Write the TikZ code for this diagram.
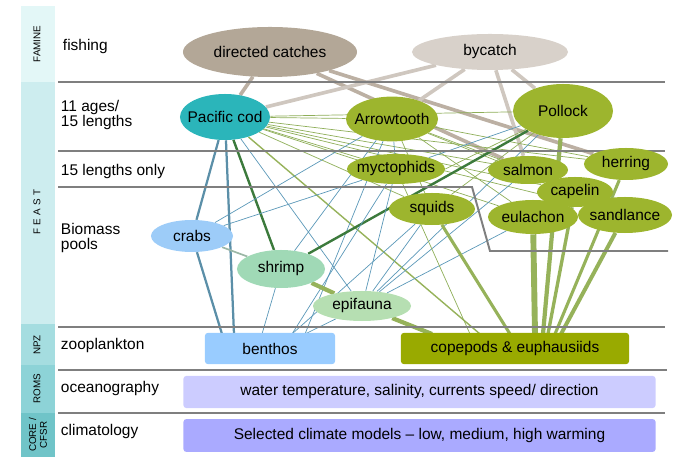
\documentclass[tikz,border=0pt]{standalone}
\usepackage{fontspec}
\setmainfont{Liberation Sans}
\usetikzlibrary{shapes.geometric,backgrounds}

\definecolor{famine}{HTML}{E3F7F7}
\definecolor{feast}{HTML}{CDEDEF}
\definecolor{npz}{HTML}{A5DDE0}
\definecolor{roms}{HTML}{8DD3D7}
\definecolor{core}{HTML}{70C4C8}
\definecolor{captura}{HTML}{B3A797}
\definecolor{incidental}{HTML}{D8D1CA}
\definecolor{bacalao}{HTML}{2BB5BA}
\definecolor{pez}{HTML}{9DB52E}
\definecolor{cangrejo}{HTML}{9DCCF8}
\definecolor{camaron}{HTML}{A0D9B6}
\definecolor{epif}{HTML}{B6DFB2}
\definecolor{bentos}{HTML}{99CCFF}
\definecolor{copepodo}{HTML}{99AA00}
\definecolor{oceano}{HTML}{CCCCFF}
\definecolor{clima}{HTML}{AAAAFF}
\definecolor{separador}{HTML}{7F7F7F}
\definecolor{lcaptura}{HTML}{BCB0A3}
\definecolor{lincid}{HTML}{CFC7BF}
\definecolor{lverde}{HTML}{8EAE58}
\definecolor{lazul}{HTML}{5B98B8}
\definecolor{lazulf}{HTML}{5B8FA8}
\definecolor{lverdeo}{HTML}{3C7A3C}
\definecolor{loliva}{HTML}{96B25A}

\newcommand{\etq}[1]{\makebox[0pt]{#1}}

\begin{document}
\begin{tikzpicture}[x=0.025cm, y=-0.025cm,
        especie/.style={
            ellipse,
            inner sep=0pt,
            font=\fontsize{11}{13}\selectfont
        },
        caja/.style={
            rounded corners=2pt,
            inner sep=0pt,
            font=\fontsize{11}{13}\selectfont
        },
        banda/.style={font=\fontsize{7}{8}\selectfont, rotate=90, align=center},
        nivel/.style={anchor=west, align=left, font=\fontsize{11}{13}\selectfont},
        separa/.style={draw=separador, line width=1.4pt},
        pesca/.style={line width=2.6pt, lcaptura},
        incid/.style={line width=2.6pt, lincid},
        presa/.style={line width=0.5pt, lverde},
        presab/.style={line width=0.5pt, lazul},
        bentica/.style={line width=1.6pt, lazulf},
        oscura/.style={line width=1.7pt, lverdeo},
        plancton/.style={line width=#1, loliva}
    ]
        \useasboundingbox (0,0) rectangle (683,457);

        % bandas de modelos
        \fill[famine] (21,6) rectangle (55,82);
        \fill[feast] (21,82) rectangle (55,324);
        \fill[npz] (21,324) rectangle (55,365);
        \fill[roms] (21,365) rectangle (55,413);
        \fill[core] (21,413) rectangle (55,457);
        \node[banda] (famine) at (37,44) {FAMINE};
        \node[banda] (feast) at (37,212) {F\,\,E\,\,A\,\,S\,\,T};
        \node[banda] (npz) at (37,345) {NPZ};
        \node[banda] (roms) at (37,389) {ROMS};
        \node[banda, font=\fontsize{7}{7.5}\selectfont] (core) at (38,435) {CORE /\\CFSR};

        \node[nivel] (fishing) at (58,47) {fishing};
        \node[nivel, font=\fontsize{11}{11}\selectfont] (edades) at (56,115) {11 ages/\\15 lengths};
        \node[nivel] (tallas) at (56,172) {15 lengths only};
        \node[nivel, font=\fontsize{11}{11}\selectfont] (biomasa) at (56,238) {Biomass\\pools};
        \node[nivel] (zoo) at (56,346) {zooplankton};
        \node[nivel] (oceanografia) at (56,389) {oceanography};
        \node[nivel] (climatologia) at (56,432) {climatology};

        \draw[separa] (58,82) -- (665,82);
        \draw[separa] (58,151) -- (665,151);
        \draw[separa] (58,187) -- (472,187) -- (490,251) -- (668,251);
        \draw[separa] (58,327) -- (665,327);
        \draw[separa] (58,370) -- (667,370);
        \draw[separa] (58,413) -- (665,413);

        % pesquerias
        \node[especie, fill=captura, minimum width=4.35cm, minimum height=1.25cm] (dirigida) at (270,52) {\etq{directed catches}};
        \node[especie, fill=incidental, minimum width=3.9cm, minimum height=0.9cm] (bycatch) at (490,52) {\etq{bycatch}};

        % especies
        \node[especie, fill=bacalao, minimum width=2.25cm, minimum height=1.15cm] (bacalao) at (225,117) {\etq{Pacific cod}};
        \node[especie, fill=pez, minimum width=2.3cm, minimum height=1.12cm] (arrowtooth) at (392,119) {\etq{Arrowtooth}};
        \node[especie, fill=pez, minimum width=2.5cm, minimum height=1.35cm] (pollock) at (563,111) {\etq{Pollock}};
        \node[especie, fill=pez, minimum width=2.45cm, minimum height=0.75cm] (myctophids) at (396,169) {\etq{myctophids}};
        \node[especie, fill=pez, minimum width=2.0cm, minimum height=0.7cm] (salmon) at (528,170) {\etq{salmon}};
        \node[especie, fill=pez, minimum width=2.1cm, minimum height=0.8cm] (herring) at (626,164) {\etq{herring}};
        \node[especie, fill=pez, minimum width=1.9cm, minimum height=0.75cm] (capelin) at (575,192) {\etq{capelin}};
        \node[especie, fill=pez, minimum width=2.25cm, minimum height=0.85cm] (eulachon) at (533,217) {\etq{eulachon}};
        \node[especie, fill=pez, minimum width=2.35cm, minimum height=0.9cm] (sandlance) at (625,215) {\etq{sandlance}};
        \node[especie, fill=pez, minimum width=2.15cm, minimum height=0.8cm] (squids) at (432,209) {\etq{squids}};
        \node[especie, fill=cangrejo, minimum width=2.05cm, minimum height=0.8cm] (crabs) at (192,236) {\etq{crabs}};
        \node[especie, fill=camaron, minimum width=2.2cm, minimum height=0.95cm] (shrimp) at (281,269) {\etq{shrimp}};
        \node[especie, fill=epif, minimum width=2.45cm, minimum height=0.75cm] (epifauna) at (362,306) {\etq{epifauna}};

        % cajas inferiores
        \node[caja, fill=bentos, minimum width=3.25cm, minimum height=0.78cm] (benthos) at (270,348.5) {benthos};
        \node[caja, fill=copepodo, minimum width=5.7cm, minimum height=0.78cm] (copepods) at (515,348.5) {copepods \& euphausiids};
        \node[caja, fill=oceano, minimum width=11.8cm, minimum height=0.8cm] (agua) at (419.5,392) {water temperature, salinity, currents speed/ direction};
        \node[caja, fill=clima, minimum width=11.8cm, minimum height=0.82cm] (modelos) at (419.5,435.5) {Selected climate models -- low, medium, high warming};

        % llegadas a las cajas
        \coordinate (ben-crab) at (222,334);
        \coordinate (ben-cod) at (234,334);
        \coordinate (ben-shr) at (262,334);
        \coordinate (ben-myc) at (292,334);
        \coordinate (ben-epi) at (305,334);
        \coordinate (cop-epi) at (432,334);
        \coordinate (cop-cod) at (480,334);
        \coordinate (cop-myc) at (470,334);
        \coordinate (cop-squ) at (510,334);
        \coordinate (cop-eul) at (535,334);
        \coordinate (cop-pol) at (543,334);
        \coordinate (cop-cap) at (548,334);
        \coordinate (cop-her) at (555,334);
        \coordinate (cop-san) at (561,334);

        \begin{pgfonlayer}{background}
            \draw[pesca] (dirigida) -- (bacalao);
            \draw[pesca] (dirigida) -- (herring);
            \draw[pesca] (dirigida) -- (salmon);
            \draw[incid] (bycatch) -- (bacalao);
            \draw[incid] (bycatch) -- (arrowtooth);
            \draw[incid] (bycatch) -- (pollock);
            \draw[incid] (bycatch) -- (salmon);

            \draw[presa] (bacalao) -- (arrowtooth);
            \draw[presa] (bacalao) -- (pollock);
            \draw[presa] (bacalao) -- (myctophids);
            \draw[presa] (bacalao) -- (salmon);
            \draw[presa] (bacalao) -- (herring);
            \draw[presa] (bacalao) -- (capelin);
            \draw[presa] (bacalao) -- (eulachon);
            \draw[presa] (bacalao) -- (sandlance);
            \draw[presa] (bacalao) -- (squids);
            \draw[plancton=1pt] (bacalao) -- (cop-cod);
            \draw[bentica] (bacalao) -- (crabs);
            \draw[bentica] (bacalao) -- (ben-cod);
            \draw[presab] (bacalao) -- (epifauna);
            \draw[oscura] (bacalao) -- (shrimp);

            \draw[presa] (arrowtooth) -- (salmon);
            \draw[presa] (arrowtooth) -- (herring);
            \draw[presa] (arrowtooth) -- (capelin);
            \draw[presa] (arrowtooth) -- (squids);
            \draw[presa] (arrowtooth) -- (eulachon);
            \draw[presab] (arrowtooth) -- (myctophids);
            \draw[presab] (arrowtooth) -- (crabs);
            \draw[presab] (arrowtooth) -- (shrimp);
            \draw[presab] (arrowtooth) -- (ben-epi);

            \draw[oscura] (pollock) -- (shrimp);
            \draw[presab] (pollock) -- (myctophids);
            \draw[presab] (pollock) -- (epifauna);
            \draw[presa] (pollock) -- (squids);
            \draw[presa] (pollock) -- (myctophids.east);
            \draw[plancton=3pt] (pollock) -- (cop-pol);

            \draw[presab] (myctophids) -- (crabs);
            \draw[presab] (myctophids) -- (ben-myc);
            \draw[presab] (myctophids) -- (epifauna);
            \draw[presab] (squids) -- (epifauna);
            \draw[presab] (squids) -- (ben-myc);
            \draw[presab] (eulachon) -- (epifauna);
            \draw[presab] (salmon) -- (epifauna);
            \draw[presa] (myctophids) -- (cop-myc);

            \draw[plancton=2.2pt] (squids) -- (cop-squ);
            \draw[plancton=4.2pt] (eulachon) -- (cop-eul);
            \draw[plancton=2.4pt] (capelin) -- (cop-cap);
            \draw[plancton=2.8pt] (sandlance) -- (cop-san);
            \draw[plancton=2.2pt] (herring) -- (cop-her);

            \draw[bentica] (crabs) -- (ben-crab);
            \draw[line width=1.2pt, camaron!70!black!70] (crabs) -- (shrimp);
            \draw[plancton=3pt] (shrimp) -- (epifauna);
            \draw[presab] (shrimp) -- (ben-shr);
            \draw[plancton=3pt] (epifauna) -- (cop-epi);
            \draw[presab] (epifauna) -- (ben-epi);
        \end{pgfonlayer}
    \end{tikzpicture}
\end{document}
